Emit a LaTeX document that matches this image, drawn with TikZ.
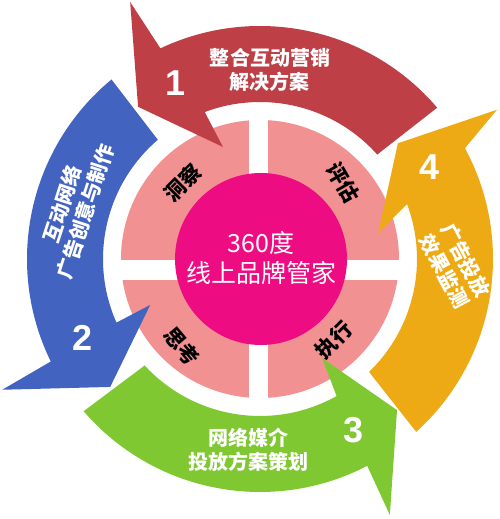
\documentclass[tikz,border=0pt]{standalone}
\usepackage{fontspec}
\setmainfont{Noto Sans CJK SC}
\newfontfamily\numfont{Liberation Sans}
\usepackage{tikz}
\definecolor{CycleRed}{RGB}{190, 64, 70}
\definecolor{CycleBlue}{RGB}{66, 100, 192}
\definecolor{CycleGreen}{RGB}{128, 200, 50}
\definecolor{CycleOrange}{RGB}{237, 170, 20}
\definecolor{RingPink}{RGB}{242, 145, 145}
\definecolor{CoreMagenta}{RGB}{238, 12, 130}

\begin{document}
\begin{tikzpicture}[
    x=1pt, y=1pt,
    arrtext/.style={text=white, font=\bfseries\fontsize{20}{24}\selectfont, align=center, inner sep=0pt},
    numtext/.style={text=white, font=\numfont\bfseries\fontsize{36}{36}\selectfont, inner sep=0pt},
    quadtext/.style={text=black, font=\bfseries\fontsize{21}{21}\selectfont, inner sep=0pt},
    coretext/.style={text=white, font=\fontsize{25}{30}\selectfont, align=center, inner sep=0pt}
]
\useasboundingbox (-260,-260) rectangle (240,259);

\fill[RingPink] (0,0) circle[radius=139];
\fill[white] (-11,-140) rectangle (8,140);
\fill[white] (-140,-21) rectangle (140,-1);
\fill[CoreMagenta] (1,0) circle[radius=86];

\fill[CycleRed] (40.5:233) arc[start angle=40.5, end angle=115.3, radius=233] -- (116.8:288) -- (128.7:195) -- (108.3:118) -- (110.6:157) arc[start angle=110.6, end angle=41.7, radius=157] -- cycle;
\fill[CycleBlue] (129.6:233) arc[start angle=129.6, end angle=206.1, radius=233] -- (206.9:289) -- (220.5:197) -- (202.7:119) -- (203.9:157) arc[start angle=203.9, end angle=130.6, radius=157] -- cycle;
\fill[CycleGreen] (220.8:233) arc[start angle=220.8, end angle=297.4, radius=233] -- (296.9:287) -- (312.2:204) -- (302.1:117) -- (299.2:157) arc[start angle=299.2, end angle=222.7, radius=157] -- cycle;
\fill[CycleOrange] (-47.9:233) arc[start angle=-47.9, end angle=28.4, radius=233] -- (32.2:280) -- (40:180) -- (12.4:121) -- (20.5:157) arc[start angle=20.5, end angle=-46, radius=157] -- cycle;

\node[coretext] (core) at (1,1) {360度\\线上品牌管家};

\node[quadtext, rotate=45] (insight) at (-77,76) {洞察};
\node[quadtext, rotate=-60] (assess) at (83,76) {评估};
\node[quadtext, rotate=-50] (think) at (-78,-87) {思考};
\node[quadtext, rotate=45] (execute) at (74,-81) {执行};

\node[arrtext] (txt_red) at (10,189) {整合互动营销\\解决方案};
\node[arrtext, rotate=72] (txt_blue) at (-186,51) {互动网络\\广告创意与制作};
\node[arrtext] (txt_green) at (-11,-191) {网络媒介\\投放方案策划};
\node[arrtext, rotate=-62] (txt_orange) at (195,-7) {广告投放\\效果监测};

\node[numtext] (num1) at (-84,176) {1};
\node[numtext] (num2) at (-177,-79) {2};
\node[numtext] (num3) at (94,-171) {3};
\node[numtext] (num4) at (170,92) {4};

\end{tikzpicture}
\end{document}
